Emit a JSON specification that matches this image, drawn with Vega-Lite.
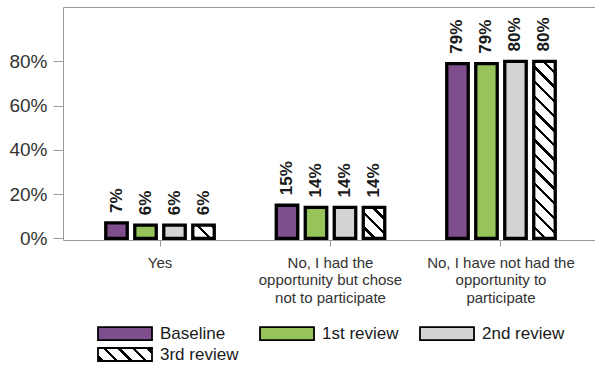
{
  "$schema": "https://vega.github.io/schema/vega-lite/v6.json",
  "autosize": {"type": "none"},
  "padding": {"left": 63, "top": 7, "right": 0, "bottom": 127},
  "width": 532,
  "height": 233,
  "config": {
    "view": {"stroke": null},
    "font": "Liberation Sans"
  },
  "data": {
    "values": [
      {"cat": "Yes", "series": "Baseline", "pct": 0.07},
      {"cat": "Yes", "series": "1st review", "pct": 0.06},
      {"cat": "Yes", "series": "2nd review", "pct": 0.06},
      {"cat": "Yes", "series": "3rd review", "pct": 0.06},
      {"cat": "No, I had the opportunity but chose not to participate", "series": "Baseline", "pct": 0.15},
      {"cat": "No, I had the opportunity but chose not to participate", "series": "1st review", "pct": 0.14},
      {"cat": "No, I had the opportunity but chose not to participate", "series": "2nd review", "pct": 0.14},
      {"cat": "No, I had the opportunity but chose not to participate", "series": "3rd review", "pct": 0.14},
      {"cat": "No, I have not had the opportunity to participate", "series": "Baseline", "pct": 0.79},
      {"cat": "No, I have not had the opportunity to participate", "series": "1st review", "pct": 0.79},
      {"cat": "No, I have not had the opportunity to participate", "series": "2nd review", "pct": 0.80},
      {"cat": "No, I have not had the opportunity to participate", "series": "3rd review", "pct": 0.80}
    ]
  },
  "resolve": {"axis": {"x": "independent"}},
  "layer": [
    {
      "mark": {"type": "bar", "stroke": "black", "strokeWidth": 3.3, "strokeJoin": "miter"},
      "encoding": {
        "x": {
          "field": "cat", "type": "nominal", "sort": null,
          "scale": {"paddingInner": 0.3196, "paddingOuter": 0.22, "align": 0.52},
          "axis": {
            "title": null, "labelAngle": 0, "orient": "bottom",
            "labelFont": "Liberation Sans", "labelFontSize": 15, "labelColor": "#333333",
            "labelLineHeight": 17.5, "labelPadding": 9, "labelLimit": 300,
            "tickSize": 6, "tickColor": "#999999", "domainColor": "#999999",
            "labelExpr": "datum.value === 'No, I had the opportunity but chose not to participate' ? ['No, I had the', 'opportunity but chose', 'not to participate'] : datum.value === 'No, I have not had the opportunity to participate' ? ['No, I have not had the', 'opportunity to', 'participate'] : datum.value"
          }
        },
        "xOffset": {
          "field": "series", "type": "nominal",
          "sort": ["Baseline", "1st review", "2nd review", "3rd review"],
          "scale": {"paddingInner": 0.259, "paddingOuter": 0.1295}
        },
        "y": {
          "field": "pct", "type": "quantitative",
          "scale": {"domain": [-0.007, 1.046], "nice": false, "zero": false},
          "axis": {
            "title": null, "values": [0, 0.2, 0.4, 0.6, 0.8], "format": ".0%",
            "labelFont": "Liberation Sans", "labelFontSize": 19, "labelColor": "#333333",
            "tickSize": 10, "tickColor": "#999999", "domainColor": "#999999",
            "labelPadding": 6, "grid": false
          }
        },
        "fill": {
          "field": "series", "type": "nominal",
          "scale": {
            "domain": ["Baseline", "1st review", "2nd review", "3rd review"],
            "range": ["#7f4e8c", "#96c35a", "#d2d3d5",
              {"expr": "{gradient: 'linear', x1: 0, y1: 1, x2: 1.1728, y2: 0.7177, stops: [{offset: 0, color: 'white'}, {offset: 0.0399, color: 'white'}, {offset: 0.0399, color: 'black'}, {offset: 0.0905, color: 'black'}, {offset: 0.0905, color: 'white'}, {offset: 0.2573, color: 'white'}, {offset: 0.2573, color: 'black'}, {offset: 0.3079, color: 'black'}, {offset: 0.3079, color: 'white'}, {offset: 0.4747, color: 'white'}, {offset: 0.4747, color: 'black'}, {offset: 0.5253, color: 'black'}, {offset: 0.5253, color: 'white'}, {offset: 0.6921, color: 'white'}, {offset: 0.6921, color: 'black'}, {offset: 0.7427, color: 'black'}, {offset: 0.7427, color: 'white'}, {offset: 0.9095, color: 'white'}, {offset: 0.9095, color: 'black'}, {offset: 0.9601, color: 'black'}, {offset: 0.9601, color: 'white'}, {offset: 1, color: 'white'}]}"}
            ]
          },
          "legend": {
            "title": null, "orient": "none", "legendX": 33, "legendY": 318,
            "direction": "horizontal", "columns": 3, "columnPadding": 17, "rowPadding": 0,
            "padding": 0,
            "symbolType": "M-1,-1H7.308V1H-1Z", "symbolSize": 169,
            "symbolStrokeColor": "black", "symbolStrokeWidth": 1.8,
            "labelFont": "Liberation Sans", "labelFontSize": 17, "labelColor": "#1a1a1a",
            "labelOffset": 47, "labelLimit": 200,
            "encode": {
              "symbols": {
                "update": {
                  "stroke": {"value": "black"},
                  "strokeWidth": {"value": 1.8}
                }
              }
            }
          },
          "condition": [
            {
              "test": "datum.series === '3rd review' && datum.cat === 'Yes'",
              "value": {"gradient": "linear", "x1": 0, "y1": 1, "x2": 1.171, "y2": 0.2767, "stops": [
                {"offset": 0, "color": "white"}, {"offset": 0.0325, "color": "white"}, {"offset": 0.0325, "color": "black"}, {"offset": 0.1301, "color": "black"}, {"offset": 0.1301, "color": "white"},
                {"offset": 0.4514, "color": "white"}, {"offset": 0.4514, "color": "black"}, {"offset": 0.549, "color": "black"}, {"offset": 0.549, "color": "white"},
                {"offset": 0.8703, "color": "white"}, {"offset": 0.8703, "color": "black"}, {"offset": 0.9679, "color": "black"}, {"offset": 0.9679, "color": "white"}, {"offset": 1, "color": "white"}
              ]}
            },
            {
              "test": "datum.series === '3rd review' && datum.cat === 'No, I had the opportunity but chose not to participate'",
              "value": {"gradient": "linear", "x1": 0, "y1": 1, "x2": 0.7935, "y2": -0.1433, "stops": [
                {"offset": 0, "color": "white"}, {"offset": 0.19, "color": "white"}, {"offset": 0.19, "color": "black"}, {"offset": 0.2547, "color": "black"}, {"offset": 0.2547, "color": "white"},
                {"offset": 0.4675, "color": "white"}, {"offset": 0.4675, "color": "black"}, {"offset": 0.5322, "color": "black"}, {"offset": 0.5322, "color": "white"},
                {"offset": 0.7451, "color": "white"}, {"offset": 0.7451, "color": "black"}, {"offset": 0.8098, "color": "black"}, {"offset": 0.8098, "color": "white"}, {"offset": 1, "color": "white"}
              ]}
            },
            {
              "test": "datum.series === '3rd review' && datum.cat === 'No, I have not had the opportunity to participate'",
              "value": {"gradient": "linear", "x1": 0, "y1": 1, "x2": 0.1342, "y2": -0.1052, "stops": [
                {"offset": 0, "color": "white"},
                {"offset": 0.0512, "color": "white"}, {"offset": 0.0512, "color": "black"}, {"offset": 0.0683, "color": "black"}, {"offset": 0.0683, "color": "white"},
                {"offset": 0.1245, "color": "white"}, {"offset": 0.1245, "color": "black"}, {"offset": 0.1416, "color": "black"}, {"offset": 0.1416, "color": "white"},
                {"offset": 0.1979, "color": "white"}, {"offset": 0.1979, "color": "black"}, {"offset": 0.215, "color": "black"}, {"offset": 0.215, "color": "white"},
                {"offset": 0.2713, "color": "white"}, {"offset": 0.2713, "color": "black"}, {"offset": 0.2884, "color": "black"}, {"offset": 0.2884, "color": "white"},
                {"offset": 0.3447, "color": "white"}, {"offset": 0.3447, "color": "black"}, {"offset": 0.3618, "color": "black"}, {"offset": 0.3618, "color": "white"},
                {"offset": 0.4181, "color": "white"}, {"offset": 0.4181, "color": "black"}, {"offset": 0.4352, "color": "black"}, {"offset": 0.4352, "color": "white"},
                {"offset": 0.4915, "color": "white"}, {"offset": 0.4915, "color": "black"}, {"offset": 0.5085, "color": "black"}, {"offset": 0.5085, "color": "white"},
                {"offset": 0.5648, "color": "white"}, {"offset": 0.5648, "color": "black"}, {"offset": 0.5819, "color": "black"}, {"offset": 0.5819, "color": "white"},
                {"offset": 0.6382, "color": "white"}, {"offset": 0.6382, "color": "black"}, {"offset": 0.6553, "color": "black"}, {"offset": 0.6553, "color": "white"},
                {"offset": 0.7116, "color": "white"}, {"offset": 0.7116, "color": "black"}, {"offset": 0.7287, "color": "black"}, {"offset": 0.7287, "color": "white"},
                {"offset": 0.785, "color": "white"}, {"offset": 0.785, "color": "black"}, {"offset": 0.8021, "color": "black"}, {"offset": 0.8021, "color": "white"},
                {"offset": 0.8584, "color": "white"}, {"offset": 0.8584, "color": "black"}, {"offset": 0.8755, "color": "black"}, {"offset": 0.8755, "color": "white"},
                {"offset": 0.9317, "color": "white"}, {"offset": 0.9317, "color": "black"}, {"offset": 0.9488, "color": "black"}, {"offset": 0.9488, "color": "white"},
                {"offset": 1, "color": "white"}
              ]}
            }
          ]
        }
      }
    },
    {
      "mark": {
        "type": "text", "angle": 270, "align": "left", "baseline": "middle",
        "font": "Liberation Sans", "fontWeight": "bold", "fontSize": 17,
        "color": "#1a1a1a", "yOffset": -10
      },
      "encoding": {
        "x": {
          "field": "cat", "type": "nominal", "sort": null,
          "axis": {"orient": "top", "title": null, "labels": false, "ticks": false, "domain": true, "domainColor": "#999999", "grid": false}
        },
        "xOffset": {"field": "series", "type": "nominal", "sort": ["Baseline", "1st review", "2nd review", "3rd review"]},
        "y": {"field": "pct", "type": "quantitative"},
        "text": {"field": "pct", "type": "quantitative", "format": ".0%"}
      }
    }
  ]
}
